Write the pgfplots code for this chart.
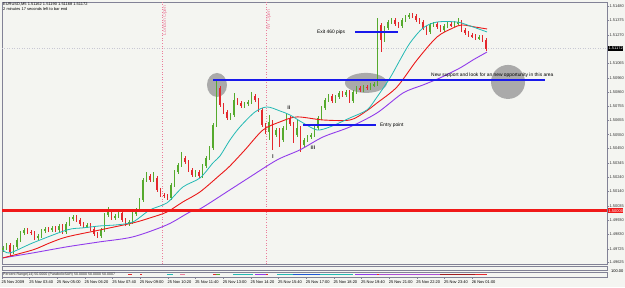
\documentclass[border=0pt]{standalone}
\usepackage{fontspec}
\setmainfont{Liberation Sans}
\usepackage{pgfplots}
\usepackage{pgfplotstable}
\pgfplotsset{compat=1.18}
\definecolor{bg}{RGB}{244,245,241}
\definecolor{frame}{RGB}{130,130,150}
\definecolor{cup}{RGB}{85,170,45}
\definecolor{cdn}{RGB}{228,40,45}
\definecolor{maC}{RGB}{35,185,180}
\definecolor{maR}{RGB}{235,25,25}
\definecolor{maP}{RGB}{145,60,235}
\definecolor{hblue}{RGB}{25,25,235}
\definecolor{hred}{RGB}{240,25,25}
\definecolor{ellg}{RGB}{170,170,170}
\definecolor{vpink}{RGB}{235,125,155}
\definecolor{bidg}{RGB}{200,200,212}
\newcommand\tf{\fontsize{4}{4.6}\selectfont}
\newcommand\af{\fontsize{4.9}{5.6}\selectfont}

\pgfplotstableread{
k o h l c
0 1.49717 1.49744 1.49704 1.49731
1 1.49731 1.49766 1.49718 1.49753
2 1.49753 1.49766 1.49674 1.49702
3 1.49702 1.49752 1.49689 1.49739
4 1.49739 1.49802 1.49726 1.49789
5 1.49789 1.49853 1.49776 1.49840
6 1.49840 1.49874 1.49827 1.49861
7 1.49861 1.49874 1.49834 1.49847
8 1.49847 1.49860 1.49827 1.49840
9 1.49840 1.49853 1.49791 1.49804
10 1.49804 1.49831 1.49791 1.49818
11 1.49818 1.49867 1.49805 1.49854
12 1.49854 1.49882 1.49841 1.49869
13 1.49869 1.49882 1.49848 1.49861
14 1.49861 1.49889 1.49848 1.49876
15 1.49876 1.49889 1.49848 1.49861
16 1.49861 1.49903 1.49848 1.49890
17 1.49890 1.49903 1.49834 1.49847
18 1.49847 1.49918 1.49834 1.49905
19 1.49905 1.49954 1.49892 1.49941
20 1.49941 1.49968 1.49928 1.49955
21 1.49955 1.49968 1.49921 1.49934
22 1.49934 1.49947 1.49892 1.49905
23 1.49905 1.49918 1.49877 1.49890
24 1.49890 1.49911 1.49877 1.49898
25 1.49898 1.49911 1.49856 1.49869
26 1.49869 1.49882 1.49820 1.49833
27 1.49833 1.49846 1.49805 1.49818
28 1.49818 1.49874 1.49805 1.49861
29 1.49861 1.49983 1.49848 1.49970
30 1.49970 1.50028 1.49957 1.49991
31 1.49991 1.50004 1.49935 1.49948
32 1.49948 1.49976 1.49935 1.49963
33 1.49963 1.49997 1.49950 1.49984
34 1.49984 1.49997 1.49921 1.49934
35 1.49934 1.49947 1.49892 1.49905
36 1.49905 1.49932 1.49892 1.49919
37 1.49919 1.49990 1.49906 1.49977
38 1.49977 1.50019 1.49964 1.50006
39 1.50006 1.50091 1.49993 1.50078
40 1.50078 1.50236 1.50065 1.50223
41 1.50223 1.50281 1.50210 1.50252
42 1.50252 1.50265 1.50210 1.50223
43 1.50223 1.50281 1.50210 1.50237
44 1.50237 1.50250 1.50138 1.50151
45 1.50151 1.50164 1.50101 1.50114
46 1.50114 1.50127 1.50094 1.50107
47 1.50107 1.50120 1.50080 1.50093
48 1.50093 1.50200 1.50080 1.50187
49 1.50187 1.50294 1.50174 1.50281
50 1.50281 1.50344 1.50268 1.50331
51 1.50331 1.50425 1.50318 1.50382
52 1.50382 1.50395 1.50340 1.50353
53 1.50353 1.50366 1.50282 1.50295
54 1.50295 1.50308 1.50246 1.50259
55 1.50259 1.50294 1.50246 1.50281
56 1.50281 1.50294 1.50239 1.50252
57 1.50252 1.50337 1.50239 1.50324
58 1.50324 1.50395 1.50311 1.50382
59 1.50382 1.50467 1.50369 1.50454
60 1.50454 1.50633 1.50441 1.50620
61 1.50620 1.50945 1.50607 1.50888
62 1.50888 1.50901 1.50752 1.50765
63 1.50765 1.50778 1.50701 1.50714
64 1.50714 1.50727 1.50658 1.50671
65 1.50671 1.50705 1.50658 1.50692
66 1.50692 1.50851 1.50679 1.50801
67 1.50801 1.50814 1.50766 1.50779
68 1.50779 1.50792 1.50745 1.50758
69 1.50758 1.50785 1.50745 1.50772
70 1.50772 1.50799 1.50759 1.50786
71 1.50786 1.50859 1.50773 1.50830
72 1.50830 1.50843 1.50788 1.50801
73 1.50801 1.50814 1.50716 1.50729
74 1.50729 1.50742 1.50607 1.50620
75 1.50620 1.50633 1.50557 1.50570
76 1.50570 1.50692 1.50512 1.50642
77 1.50642 1.50655 1.50440 1.50548
78 1.50548 1.50597 1.50535 1.50584
79 1.50584 1.50597 1.50461 1.50512
80 1.50512 1.50612 1.50499 1.50599
81 1.50599 1.50707 1.50586 1.50671
82 1.50671 1.50684 1.50614 1.50627
83 1.50627 1.50640 1.50490 1.50548
84 1.50548 1.50656 1.50535 1.50599
85 1.50599 1.50612 1.50425 1.50476
86 1.50476 1.50525 1.50463 1.50512
87 1.50512 1.50546 1.50499 1.50533
88 1.50533 1.50561 1.50520 1.50548
89 1.50548 1.50612 1.50535 1.50599
90 1.50599 1.50684 1.50586 1.50671
91 1.50671 1.50756 1.50658 1.50743
92 1.50743 1.50814 1.50730 1.50801
93 1.50801 1.50843 1.50788 1.50830
94 1.50830 1.50843 1.50781 1.50794
95 1.50794 1.50835 1.50781 1.50822
96 1.50822 1.50864 1.50809 1.50851
97 1.50851 1.50864 1.50824 1.50837
98 1.50837 1.50872 1.50824 1.50859
99 1.50859 1.50872 1.50781 1.50794
100 1.50794 1.50872 1.50781 1.50859
101 1.50859 1.50901 1.50846 1.50888
102 1.50888 1.50901 1.50860 1.50873
103 1.50873 1.50908 1.50860 1.50895
104 1.50895 1.50908 1.50875 1.50888
105 1.50888 1.50922 1.50875 1.50909
106 1.50909 1.50929 1.50896 1.50916
107 1.50916 1.51393 1.50903 1.51343
108 1.51343 1.51356 1.51148 1.51234
109 1.51234 1.51334 1.51221 1.51321
110 1.51321 1.51377 1.51308 1.51364
111 1.51364 1.51392 1.51351 1.51379
112 1.51379 1.51392 1.51337 1.51350
113 1.51350 1.51363 1.51323 1.51336
114 1.51336 1.51392 1.51323 1.51379
115 1.51379 1.51414 1.51366 1.51401
116 1.51401 1.51430 1.51388 1.51415
117 1.51415 1.51428 1.51395 1.51408
118 1.51408 1.51421 1.51366 1.51379
119 1.51379 1.51392 1.51351 1.51364
120 1.51364 1.51377 1.51308 1.51321
121 1.51321 1.51334 1.51270 1.51292
122 1.51292 1.51356 1.51279 1.51343
123 1.51343 1.51363 1.51330 1.51350
124 1.51350 1.51363 1.51315 1.51328
125 1.51328 1.51341 1.51294 1.51307
126 1.51307 1.51349 1.51294 1.51336
127 1.51336 1.51363 1.51323 1.51350
128 1.51350 1.51363 1.51330 1.51343
129 1.51343 1.51370 1.51330 1.51357
130 1.51357 1.51393 1.51344 1.51364
131 1.51364 1.51377 1.51294 1.51307
132 1.51307 1.51320 1.51272 1.51285
133 1.51285 1.51298 1.51257 1.51270
134 1.51270 1.51283 1.51250 1.51263
135 1.51263 1.51276 1.51236 1.51249
136 1.51249 1.51269 1.51236 1.51256
137 1.51256 1.51269 1.51221 1.51234
138 1.51234 1.51247 1.51155 1.51172
}\candles

\begin{document}
\begin{tikzpicture}[x=1bp,y=1bp]
\fill[bg] (0,0) rectangle (625,287);
\begin{axis}[at={(2bp,23bp)}, anchor=south west, scale only axis,
  width=605bp, height=262bp,
  xmin=-0.2857, xmax=172.571, ymin=1.496147, ymax=1.515089,
  axis line style={draw=frame, line width=0.6bp},
  xtick=\empty,
  ytick={1.51480,1.51375,1.51270,1.51065,1.50960,1.50860,1.50755,1.50655,1.50550,1.50450,1.50345,1.50240,1.50140,1.50035,1.49930,1.49830,1.49725,1.49625},
  yticklabels={1.51480,1.51375,1.51270,1.51065,1.50960,1.50860,1.50755,1.50655,1.50550,1.50450,1.50345,1.50240,1.50140,1.50035,1.49930,1.49830,1.49725,1.49625},
  ytick pos=right, yticklabel pos=right, tick align=outside,
  major tick length=2bp, tick style={draw=frame, line width=0.4bp},
  yticklabel style={font=\tf, anchor=west, inner sep=0.3bp, text=black!80},
  clip=true]
% background objects
\fill[ellg] (axis cs:61.14,1.50909) ellipse [x radius=10bp, y radius=12bp];
\fill[ellg] (axis cs:103.71,1.50924) ellipse [x radius=21bp, y radius=10bp];
\fill[ellg] (axis cs:144.29,1.50931) circle [radius=17bp];
\addplot[bidg, dotted, line width=0.5bp, forget plot] coordinates {(-0.2857,1.51172) (172.571,1.51172)};
\addplot[vpink, dotted, line width=0.6bp, forget plot] coordinates {(45.43,1.496147) (45.43,1.515089)};
\addplot[vpink, dotted, line width=0.6bp, forget plot] coordinates {(75.14,1.496147) (75.14,1.515089)};
% wicks
\addplot[draw=none, mark=none, forget plot, error bars/.cd, y dir=both, y explicit, error mark=none,
  error bar style={draw=cup, line width=0.6bp}]
  table[x=k, y expr={\thisrow{c}>=\thisrow{o} ? (\thisrow{h}+\thisrow{l})/2 : nan}, y error expr={(\thisrow{h}-\thisrow{l})/2}] {\candles};
\addplot[draw=none, mark=none, forget plot, error bars/.cd, y dir=both, y explicit, error mark=none,
  error bar style={draw=cdn, line width=0.6bp}]
  table[x=k, y expr={\thisrow{c}<\thisrow{o} ? (\thisrow{h}+\thisrow{l})/2 : nan}, y error expr={(\thisrow{h}-\thisrow{l})/2}] {\candles};
% bodies
\addplot[draw=none, mark=none, forget plot, error bars/.cd, y dir=both, y explicit, error mark=none,
  error bar style={draw=cup, line width=1.8bp}]
  table[x=k, y expr={\thisrow{c}>=\thisrow{o} ? (\thisrow{o}+\thisrow{c})/2 : nan}, y error expr={max(abs(\thisrow{c}-\thisrow{o})/2,0.00002)}] {\candles};
\addplot[draw=none, mark=none, forget plot, error bars/.cd, y dir=both, y explicit, error mark=none,
  error bar style={draw=cdn, line width=1.8bp}]
  table[x=k, y expr={\thisrow{c}<\thisrow{o} ? (\thisrow{o}+\thisrow{c})/2 : nan}, y error expr={max(abs(\thisrow{c}-\thisrow{o})/2,0.00002)}] {\candles};
% moving averages
\addplot[maP, line width=0.9bp, smooth, tension=0.5] coordinates {(0,1.49659) (8.57,1.49695) (18.29,1.49739) (27.71,1.49775) (37.14,1.49811) (46.86,1.49898) (53.43,1.49991) (56.29,1.50013) (64.86,1.50151) (70.57,1.50244) (78.29,1.50367) (84.86,1.50440) (91.43,1.50533) (99.14,1.50606) (106.86,1.50707) (114.29,1.50851) (120,1.50909) (124.86,1.50960) (130.57,1.51032) (134.29,1.51090) (138.29,1.51147)};
\addplot[maR, line width=0.9bp, smooth, tension=0.5] coordinates {(0,1.49659) (8.57,1.49717) (13.43,1.49768) (18.29,1.49811) (27.71,1.49861) (37.14,1.49912) (42,1.49948) (46.86,1.49991) (51.43,1.50064) (56.29,1.50136) (62,1.50259) (64.86,1.50324) (69.14,1.50440) (74.29,1.50584) (79.14,1.50642) (84,1.50678) (91.43,1.50656) (99.14,1.50656) (103.43,1.50714) (106.86,1.50779) (112.57,1.50895) (118.29,1.51090) (124,1.51256) (128.57,1.51321) (131.14,1.51343) (134.86,1.51328) (138.29,1.51314)};
\addplot[maC, line width=0.8bp, smooth, tension=0.5] coordinates {(0,1.49717) (2,1.49695) (8.57,1.49768) (18.29,1.49861) (22.86,1.49876) (27.71,1.49890) (32.57,1.49898) (37.14,1.49919) (42,1.50006) (46.86,1.50057) (51.43,1.50172) (56.29,1.50237) (60,1.50346) (62,1.50396) (64.86,1.50512) (67.71,1.50606) (72,1.50714) (75.43,1.50750) (79.14,1.50721) (82,1.50692) (85.71,1.50635) (89.71,1.50584) (93.43,1.50606) (99.14,1.50671) (104,1.50729) (106.86,1.50822) (110.57,1.50960) (113.43,1.51090) (116.29,1.51213) (120,1.51321) (124,1.51364) (129.71,1.51364) (133.43,1.51336) (138.29,1.51292)};
% horizontal objects
\addplot[hred, line width=3bp] coordinates {(-0.2857,1.50000) (172.571,1.50000)};
\addplot[hblue, line width=2.2bp] coordinates {(60,1.50945) (154.86,1.50945)};
\addplot[hblue, line width=1.8bp] coordinates {(100.57,1.51292) (112.86,1.51292)};
\addplot[hblue, line width=1.8bp] coordinates {(85.71,1.50620) (106.57,1.50620)};
% texts
\node[font=\af, anchor=west, inner sep=0pt] at (axis cs:122.29,1.50981) {New support and look for an new opportunity in this area};
\node[font=\af, anchor=west, inner sep=0pt] at (axis cs:89.71,1.51292) {Exit 460 pips};
\node[font=\af, anchor=west, inner sep=0pt] at (axis cs:107.71,1.50620) {Entry point};
\node[font=\fontsize{5.6}{6}\selectfont\bfseries, inner sep=0pt, text=black!80] at (axis cs:77.14,1.50389) {I};
\node[font=\fontsize{5.6}{6}\selectfont\bfseries, inner sep=0pt, text=black!80] at (axis cs:81.71,1.50743) {ii};
\node[font=\fontsize{5.6}{6}\selectfont\bfseries, inner sep=0pt, text=black!80] at (axis cs:88.57,1.50454) {iii};
\node[font=\af, text=vpink, rotate=90, anchor=north east, inner sep=0.5pt] at (axis cs:45.43,1.514870) {London Open};
\node[font=\af, text=vpink, rotate=90, anchor=north east, inner sep=0.5pt] at (axis cs:75.14,1.514580) {NY Open};
\coordinate (bid) at (axis cs:172.571,1.51172);
\coordinate (lvl) at (axis cs:172.571,1.50000);
\end{axis}
\node[font=\tf, fill=black, text=white, anchor=west, inner sep=0.4bp, minimum height=5bp] at ([xshift=1bp]bid) {1.51172};
\node[font=\tf, fill=hred, text=white, anchor=west, inner sep=0.4bp, minimum height=5bp] at ([xshift=1bp]lvl) {1.50000};
% title
\node[font=\tf, anchor=west, inner sep=0pt] at (3,282.3) {EURUSD,M5 1.51162 1.51190 1.51168 1.51172};
\node[font=\tf, anchor=west, inner sep=0pt] at (3,278.2) {2 minutes 17 seconds left to bar end};
% indicator 1
\begin{axis}[at={(2bp,17bp)}, anchor=south west, scale only axis, width=605bp, height=4bp,
  xmin=2, xmax=607, ymin=0, ymax=1, xtick=\empty, ytick=\empty,
  axis line style={draw=frame, line width=0.6bp}]
\addplot[draw=none] coordinates {(2,0.5)};
\end{axis}
% indicator 2
\begin{axis}[at={(2bp,10bp)}, anchor=south west, scale only axis, width=605bp, height=5bp,
  xmin=2, xmax=607, ymin=0, ymax=1, xtick=\empty, ytick=\empty,
  axis line style={draw=frame, line width=0.6bp}]
\addplot[cdn, line width=1.4bp] coordinates {(128,0.5) (132,0.5)};
\addplot[cdn, line width=1.4bp] coordinates {(140,0.5) (142,0.5)};
\addplot[maC, line width=1.4bp] coordinates {(167,0.5) (173,0.5)};
\addplot[vpink, line width=1.4bp] coordinates {(180,0.5) (185,0.5)};
\addplot[cdn, line width=1.4bp] coordinates {(213,0.5) (216,0.5)};
\addplot[cup, line width=1.4bp] coordinates {(216,0.5) (220,0.5)};
\addplot[maC, line width=1.4bp] coordinates {(233,0.5) (253,0.5)};
\addplot[maP, line width=1.4bp] coordinates {(255,0.5) (266,0.5)};
\addplot[cdn, line width=1.4bp] coordinates {(266,0.5) (268,0.5)};
\addplot[maC, line width=1.4bp] coordinates {(277,0.5) (293,0.5)};
\addplot[hblue!60!maC, line width=1.4bp] coordinates {(293,0.5) (320,0.5)};
\addplot[maC, line width=1.4bp] coordinates {(320,0.5) (353,0.5)};
\addplot[maP, line width=1.4bp] coordinates {(355,0.5) (377,0.5)};
\addplot[cdn, line width=1.4bp] coordinates {(377,0.5) (379,0.5)};
\addplot[maP!70!vpink, line width=1.4bp] coordinates {(379,0.5) (440,0.5)};
\addplot[cdn!70!black, line width=1.4bp] coordinates {(440,0.5) (475,0.5)};
\addplot[cdn, line width=1.4bp] coordinates {(475,0.5) (487,0.5)};
\end{axis}
\node[font=\fontsize{3.6}{4}\selectfont, anchor=west, inner sep=0pt, text=black!85] at (3,12.6) {Percent Range(14) 50.0000 (ParabolicSAR) 50.0000 50.0000 50.0007};
\node[font=\tf, anchor=west, inner sep=0pt] at (611,15.4) {100.00};
% time axis
\foreach \i/\t in {0/25 Nov 2009,1/25 Nov 03:40,2/25 Nov 05:00,3/25 Nov 06:20,4/25 Nov 07:40,5/25 Nov 09:00,6/25 Nov 10:20,7/25 Nov 11:40,8/25 Nov 13:00,9/25 Nov 14:20,10/25 Nov 15:40,11/25 Nov 17:00,12/25 Nov 18:20,13/25 Nov 19:40,14/25 Nov 21:00,15/25 Nov 22:20,16/25 Nov 23:40,17/26 Nov 01:00}{
  \node[font=\tf, anchor=west, inner sep=0pt] at ({1.5+27.65*\i}, 5) {\t};
  \draw[frame, line width=0.4bp] ({2+27.65*\i},10) -- ({2+27.65*\i},8);
}
\pgfresetboundingbox
\path[use as bounding box] (0,0) rectangle (625,287);
\end{tikzpicture}
\end{document}
